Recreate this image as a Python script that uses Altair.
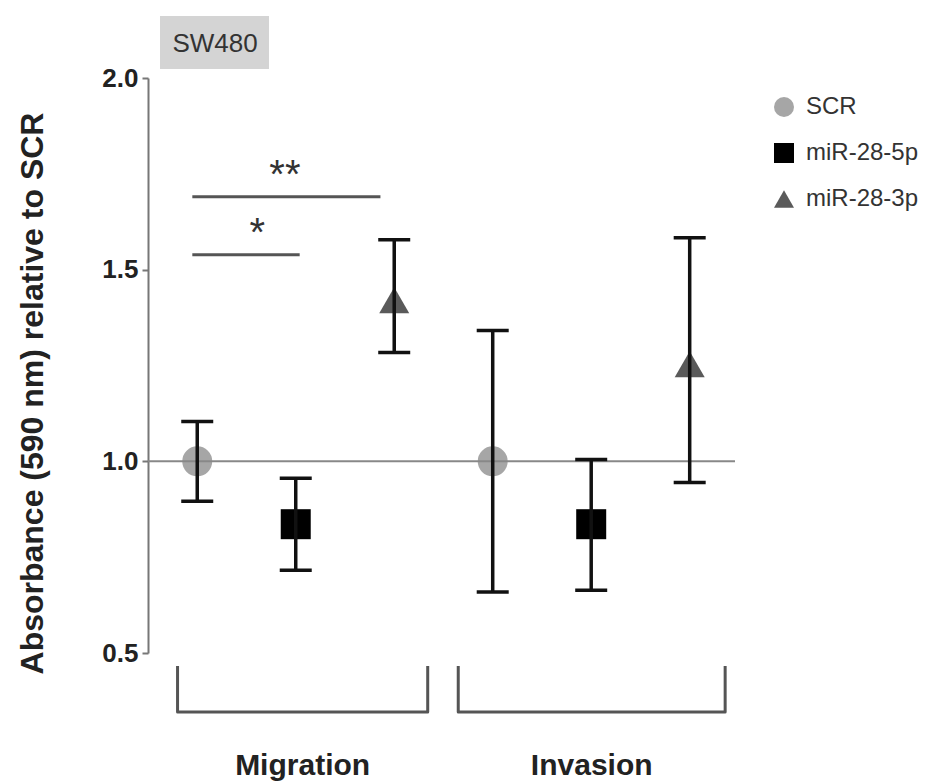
import altair as alt
import pandas as pd

# ---- data ----
groups = ["Migration", "Invasion"]
series = ["SCR", "miR-28-5p", "miR-28-3p"]
point_group = ["Migration", "Migration", "Migration", "Invasion", "Invasion", "Invasion"]
point_series = ["SCR", "miR-28-5p", "miR-28-3p", "SCR", "miR-28-5p", "miR-28-3p"]
means = [1.00, 0.836, 1.42, 1.00, 0.836, 1.253]
lows = [0.896, 0.716, 1.284, 0.659, 0.664, 0.945]
highs = [1.104, 0.956, 1.578, 1.341, 1.005, 1.583]

sig_labels = ["**", "*"]
sig_level = [1.69, 1.539]
sig_from = [0.95, 0.95]
sig_to = [2.86, 2.04]
sig_text_x = [1.89, 1.61]

bracket_left = [0.80, 3.65]
bracket_right = [3.34, 6.36]
bracket_top = 0.466
bracket_bottom = 0.346
group_label_y = 0.205

series_colors = ["#a6a6a6", "#000000", "#5a5a5a"]
series_shapes = ["circle", "square", "triangle-up"]

# ---- tables ----
pos = [groups.index(g) * 3 + series.index(s) + 1 for g, s in zip(point_group, point_series)]
df = pd.DataFrame({"group": point_group, "series": point_series, "pos": pos,
                   "mean": means, "lo": lows, "hi": highs})

sig_df = pd.DataFrame({"label": sig_labels, "y": sig_level, "x0": sig_from,
                       "x1": sig_to, "tx": sig_text_x})

br_rows = []
for i, g in enumerate(groups):
    pts = [(bracket_left[i], bracket_top), (bracket_left[i], bracket_bottom),
           (bracket_right[i], bracket_bottom), (bracket_right[i], bracket_top)]
    for k, (bx, by) in enumerate(pts):
        br_rows.append({"group": g, "order": k, "x": bx, "y": by})
br_df = pd.DataFrame(br_rows)
lab_df = pd.DataFrame({"group": groups,
                       "x": [(l + r) / 2 for l, r in zip(bracket_left, bracket_right)],
                       "y": [group_label_y] * len(groups)})

xs = alt.Scale(domain=[0.5, 6.46])
ys = alt.Scale(domain=[0.5, 2.0])

yaxis = alt.Axis(values=[0.5, 1.0, 1.5, 2.0], format=".1f", grid=False,
                 title="Absorbance (590 nm) relative to SCR",
                 titleFontSize=32, titleFontWeight="bold", titleColor="#222",
                 titleAngle=270, titleX=-106, titleY=315, titleAlign="center",
                 titleBaseline="alphabetic",
                 labelFontSize=26, labelFontWeight="bold", labelColor="#222",
                 labelPadding=4, domainColor="#777", domainWidth=2,
                 tickColor="#777", tickWidth=2, tickSize=6)

base = alt.Chart(df)

points = base.mark_point(filled=True, opacity=1, size=900).encode(
    x=alt.X("pos:Q", scale=xs, axis=None),
    y=alt.Y("mean:Q", scale=ys, axis=yaxis),
    color=alt.Color("series:N", scale=alt.Scale(domain=series, range=series_colors),
                    legend=alt.Legend(title=None)),
    shape=alt.Shape("series:N", scale=alt.Scale(domain=series, range=series_shapes),
                    legend=alt.Legend(title=None)),
)

ref = alt.Chart(pd.DataFrame({"v": [1.0]})).mark_rule(color="#888", strokeWidth=2).encode(
    y=alt.Y("v:Q", scale=ys))

stems = base.mark_rule(color="#111", strokeWidth=3.5).encode(
    x=alt.X("pos:Q", scale=xs), y=alt.Y("lo:Q", scale=ys), y2="hi:Q")
cap_lo = base.mark_tick(orient="horizontal", size=32, thickness=3.5, color="#111", opacity=1).encode(
    x=alt.X("pos:Q", scale=xs), y=alt.Y("lo:Q", scale=ys))
cap_hi = base.mark_tick(orient="horizontal", size=32, thickness=3.5, color="#111", opacity=1).encode(
    x=alt.X("pos:Q", scale=xs), y=alt.Y("hi:Q", scale=ys))

sig_lines = alt.Chart(sig_df).mark_rule(color="#555", strokeWidth=3).encode(
    x=alt.X("x0:Q", scale=xs), x2="x1:Q", y=alt.Y("y:Q", scale=ys))
sig_text = alt.Chart(sig_df).mark_text(fontSize=40, font="Liberation Sans", color="#333",
                                       baseline="alphabetic", dy=-9).encode(
    x=alt.X("tx:Q", scale=xs), y=alt.Y("y:Q", scale=ys), text="label:N")

brackets = alt.Chart(br_df).mark_line(color="#555", strokeWidth=3, strokeJoin="round").encode(
    x=alt.X("x:Q", scale=xs), y=alt.Y("y:Q", scale=ys), detail="group:N", order="order:Q")
group_labels = alt.Chart(lab_df).mark_text(fontSize=30, fontWeight="bold", color="#222",
                                           font="Liberation Sans", baseline="middle").encode(
    x=alt.X("x:Q", scale=xs), y=alt.Y("y:Q", scale=ys), text="group:N")

cell_box = alt.Chart(pd.DataFrame({"t": ["SW480"]})).mark_rect(color="#d4d4d4").encode(
    x=alt.value(12), x2=alt.value(121), y=alt.value(-62), y2=alt.value(-9))
cell_text = alt.Chart(pd.DataFrame({"t": ["SW480"]})).mark_text(
    fontSize=26, color="#333", font="Liberation Sans", baseline="middle").encode(
    x=alt.value(67), y=alt.value(-34), text="t:N")

chart = alt.layer(points, ref, stems, cap_lo, cap_hi, sig_lines, sig_text,
                  brackets, group_labels, cell_box, cell_text).properties(
    width=587, height=575,
    autosize=alt.AutoSizeParams(type="none"),
    padding={"left": 148, "top": 78, "right": 192, "bottom": 128},
).configure(font="Liberation Sans").configure_view(stroke=None).configure_legend(
    orient="none", legendX=624, legendY=17, padding=0, symbolSize=400,
    labelFontSize=24, labelFont="Liberation Sans", labelColor="#333",
    rowPadding=22, labelOffset=10, symbolStrokeWidth=0, symbolOpacity=1)

chart.save("out.html", embed_options={"renderer": "svg", "actions": False})
